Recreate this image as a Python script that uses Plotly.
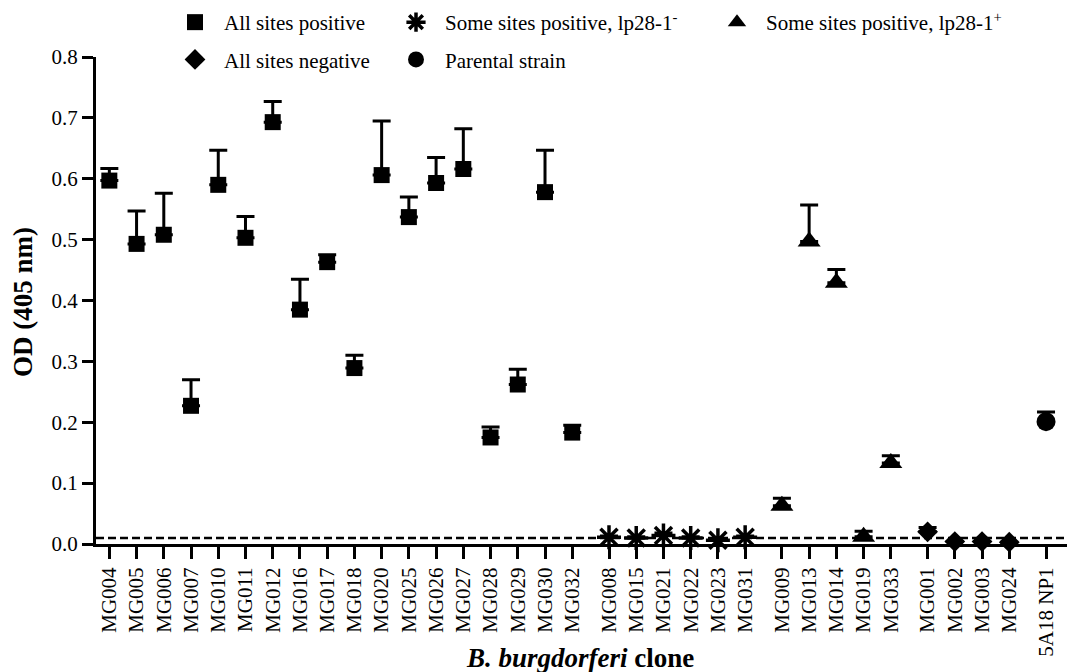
import plotly.graph_objects as go

FONT = "Liberation Serif"

# ---- data ----
all_pos_clones = ["MG004", "MG005", "MG006", "MG007", "MG010", "MG011", "MG012", "MG016", "MG017",
                  "MG018", "MG020", "MG025", "MG026", "MG027", "MG028", "MG029", "MG030", "MG032"]
all_pos_od = [0.597, 0.493, 0.508, 0.227, 0.590, 0.503, 0.693, 0.385, 0.463,
              0.289, 0.606, 0.537, 0.593, 0.616, 0.175, 0.262, 0.578, 0.183]
all_pos_err = [0.020, 0.054, 0.068, 0.043, 0.057, 0.035, 0.034, 0.050, 0.012,
               0.021, 0.089, 0.033, 0.042, 0.066, 0.017, 0.025, 0.069, 0.012]

lp_neg_clones = ["MG008", "MG015", "MG021", "MG022", "MG023", "MG031"]
lp_neg_od = [0.011, 0.010, 0.014, 0.010, 0.006, 0.011]
lp_neg_err = [0.002, 0.002, 0.004, 0.002, 0.002, 0.002]

lp_pos_clones = ["MG009", "MG013", "MG014", "MG019", "MG033"]
lp_pos_od = [0.063, 0.497, 0.429, 0.012, 0.133]
lp_pos_err = [0.012, 0.060, 0.022, 0.009, 0.012]

neg_clones = ["MG001", "MG002", "MG003", "MG024"]
neg_od = [0.020, 0.004, 0.004, 0.003]
neg_err = [0.007, 0.0, 0.0, 0.0]

parent_clones = ["5A18 NP1"]
parent_od = [0.201]
parent_err = [0.016]

cutoff = 0.01

x_title = "<b><i>B. burgdorferi</i> clone</b>"
y_title = "<b>OD (405 nm)</b>"

groups = [
    ("All sites positive", all_pos_clones, all_pos_od, all_pos_err, "square", 16, "legend"),
    ("Some sites positive, lp28-1<sup>-</sup>", lp_neg_clones, lp_neg_od, lp_neg_err, "asterisk-open", 20, "legend2"),
    ("Some sites positive, lp28-1<sup>+</sup>", lp_pos_clones, lp_pos_od, lp_pos_err, "triangle-up", 20, "legend3"),
    ("All sites negative", neg_clones, neg_od, neg_err, "diamond", 16, "legend"),
    ("Parental strain", parent_clones, parent_od, parent_err, "circle", 19, "legend2"),
]

# ---- layout geometry ----
W, H = 1067, 672
ML, MR, MT, MB = 96, 0, 57, 128
PW = W - ML - MR
PH = H - MT - MB
GAP = 0.35

fig = go.Figure()
tickvals, ticktext = [], []
idx = 0
for g, (name, clones, od, err, sym, size, leg) in enumerate(groups):
    xs = [idx + i + GAP * g for i in range(len(clones))]
    idx += len(clones)
    tickvals += xs
    ticktext += clones
    is_ast = sym.startswith("asterisk")
    fig.add_trace(go.Scatter(
        x=xs, y=od, mode="markers", name=name, legend=leg, legendgroup=name,
        marker=dict(symbol=sym, size=size, color="black",
                    line=dict(color="black", width=3.5 if is_ast else 0)),
        error_y=dict(type="data", array=err, arrayminus=[0] * len(err), symmetric=False,
                     color="black", thickness=3, width=9),
        cliponaxis=False,
    ))

fig.add_shape(type="line", xref="paper", x0=0, x1=1, yref="y", y0=cutoff, y1=cutoff,
              line=dict(color="black", width=2.5, dash="8px,4px"), layer="above")

def px2paperx(px):
    return (px - ML) / PW

def px2papery(py):
    return (MT + PH - py) / PH

legend_common = dict(orientation="v", xanchor="left", yanchor="top", bgcolor="rgba(0,0,0,0)",
                     borderwidth=0, font=dict(family=FONT, size=21, color="black"),
                     itemwidth=48, traceorder="grouped", tracegroupgap=7)

fig.add_annotation(text=x_title, xref="paper", yref="paper", x=px2paperx(580), y=px2papery(658),
                   xanchor="center", yanchor="middle", showarrow=False,
                   font=dict(family=FONT, size=27, color="black"))
fig.add_annotation(text=y_title, xref="paper", yref="paper", x=px2paperx(23), y=px2papery(302),
                   xanchor="center", yanchor="middle", showarrow=False, textangle=-90,
                   font=dict(family=FONT, size=27, color="black"))

fig.update_layout(
    width=W, height=H, autosize=False,
    margin=dict(l=ML, r=MR, t=MT, b=MB, pad=0),
    paper_bgcolor="white", plot_bgcolor="white",
    font=dict(family=FONT, color="black", size=21),
    showlegend=True,
    legend=dict(x=px2paperx(166), y=px2papery(2), **legend_common),
    legend2=dict(x=px2paperx(387), y=px2papery(2), **legend_common),
    legend3=dict(x=px2paperx(708), y=px2papery(2), **legend_common),
    xaxis=dict(range=[-0.49, 35.17], tickmode="array", tickvals=tickvals, ticktext=ticktext,
               tickangle=-90, ticks="outside", ticklen=12, tickwidth=3, tickcolor="black",
               showline=True, linewidth=3, linecolor="black", showgrid=False, zeroline=False,
               tickfont=dict(family=FONT, size=21, color="black")),
    yaxis=dict(range=[0, 0.8], dtick=0.1, tickformat=".1f", ticks="outside", ticklen=11,
               tickwidth=3, tickcolor="black", showline=True, linewidth=3, linecolor="black",
               showgrid=False, zeroline=False,
               tickfont=dict(family=FONT, size=21, color="black")),
)

page_css = ("var s=document.createElement('style');"
            "s.innerHTML='html,body{margin:0;padding:0;overflow:hidden;width:1067px;height:672px;"
            "line-height:0;font-size:0}';"
            "document.head.appendChild(s);")

fig.write_html("out.html", config={"displayModeBar": False}, post_script=page_css)
